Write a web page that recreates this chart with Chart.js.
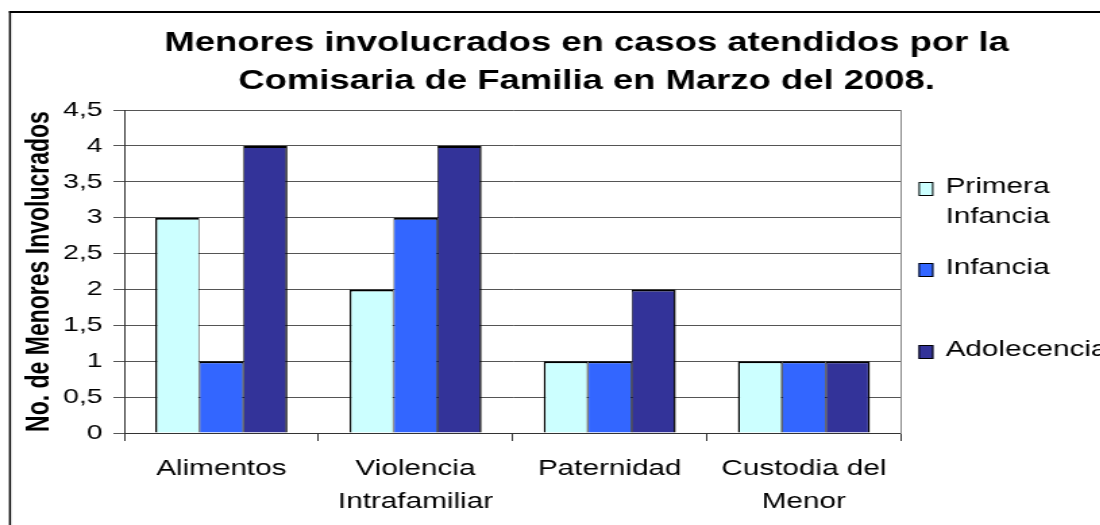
<!DOCTYPE html>
<html>
<head>
<meta charset="utf-8">
<script src="https://cdn.jsdelivr.net/npm/chart.js@4.4.1/dist/chart.umd.min.js"></script>
<style>
  html, body { margin: 0; padding: 0; background: #fff; overflow: hidden; width: 1100px; height: 525px; }
  /* the reference is drawn wide, so the whole canvas is stretched sideways */
  #wrap { position: absolute; left: 0; top: 0; transform: scaleX(1.35); transform-origin: 0 0; }
</style>
</head>
<body>
<div id="wrap"><canvas id="chart" width="869" height="525"></canvas></div>
<script>
const categories = [['Alimentos'], ['Violencia', 'Intrafamiliar'], ['Paternidad'], ['Custodia del', 'Menor']];
const seriesNames = ['Primera Infancia', 'Infancia', 'Adolecencia'];
const legendLines = [['Primera', 'Infancia'], ['Infancia'], ['Adolecencia']];
const primeraInfancia = [3, 2, 1, 1];
const infancia = [1, 3, 1, 1];
const adolecencia = [4, 4, 2, 1];
const seriesColors = ['#CCFFFF', '#3366FF', '#333399'];
const titleLines = ['Menores involucrados en casos atendidos por la', 'Comisaria de Familia en Marzo del 2008.'];
const yTitle = 'No. de Menores Involucrados';

Chart.defaults.font.family = "'Liberation Sans', Arial, sans-serif";
Chart.defaults.color = '#000';

// outer frame and the legend on the right
const framePlugin = {
  id: 'frame',
  afterDraw(chart) {
    const ctx = chart.ctx;
    const a = chart.chartArea;
    ctx.save();
    ctx.strokeStyle = '#000';
    ctx.lineWidth = 2;
    ctx.beginPath();
    ctx.moveTo(6.7, 12);
    ctx.lineTo(chart.width + 10, 12);
    ctx.stroke();
    ctx.lineWidth = 1.5;
    ctx.beginPath();
    ctx.moveTo(7.4, 11);
    ctx.lineTo(7.4, chart.height + 10);
    ctx.stroke();

    const lineY = [[187, 217], [268], [350]];
    ctx.font = "22px 'Liberation Sans', Arial, sans-serif";
    ctx.textBaseline = 'middle';
    ctx.textAlign = 'left';
    chart.data.datasets.forEach((ds, i) => {
      const ys = lineY[i];
      const boxX = a.right + 13;
      const boxY = ys[0] + 2 - 7;
      ctx.fillStyle = ds.backgroundColor;
      ctx.fillRect(boxX, boxY, 11, 14);
      ctx.strokeStyle = '#000';
      ctx.lineWidth = 1;
      ctx.strokeRect(boxX + 0.5, boxY + 0.5, 10, 13);
      ctx.fillStyle = '#000';
      legendLines[i].forEach((t, j) => ctx.fillText(t, a.right + 33, ys[j]));
    });
    ctx.restore();
  }
};

const borders = [
  { top: 2, left: 1.5, right: 0.75, bottom: 0 },
  { top: 2, left: 0.75, right: 0.75, bottom: 0 },
  { top: 2, left: 0.75, right: 1.5, bottom: 0 }
];
const seriesData = [primeraInfancia, infancia, adolecencia];

new Chart(document.getElementById('chart'), {
  type: 'bar',
  data: {
    labels: categories,
    datasets: seriesNames.map((name, i) => ({
      label: name,
      data: seriesData[i],
      backgroundColor: seriesColors[i],
      borderColor: '#000',
      borderWidth: borders[i],
      borderSkipped: 'start',
      categoryPercentage: 0.68,
      barPercentage: 1.0
    }))
  },
  options: {
    responsive: false,
    animation: false,
    devicePixelRatio: 1,
    layout: { padding: 0 },
    plugins: {
      legend: { display: false },
      tooltip: { enabled: false },
      title: {
        display: true,
        text: titleLines,
        color: '#000',
        font: { size: 27, weight: 'bold', lineHeight: 1.4 },
        padding: { top: 25, bottom: 9.4 }
      }
    },
    scales: {
      x: {
        grid: { drawOnChartArea: false, drawTicks: true, tickLength: 8, color: '#333', offset: true },
        border: { color: '#333', width: 1 },
        ticks: { font: { size: 22, lineHeight: 1.5 }, color: '#000', padding: 11, maxRotation: 0, autoSkip: false },
        afterFit: (s) => { s.height = 92; }
      },
      y: {
        min: 0,
        max: 4.5,
        ticks: {
          stepSize: 0.5,
          font: { size: 21 },
          color: '#000',
          padding: 8,
          callback: (v) => String(v).replace('.', ',')
        },
        grid: { color: '#555', tickLength: 8 },
        border: { color: '#333', width: 1 },
        title: {
          display: true,
          text: yTitle,
          color: '#000',
          font: { size: 23, weight: 'bold' },
          padding: { top: 16, bottom: 0 }
        },
        afterFit: (s) => { s.width = 92; }
      },
      // right edge of the plot area; its width reserves the legend column
      side: {
        position: 'right',
        min: 0,
        max: 4.5,
        grid: { drawOnChartArea: false, drawTicks: false },
        border: { color: '#888', width: 1 },
        ticks: { display: false },
        afterFit: (s) => { s.width = 201.6; }
      }
    }
  },
  plugins: [framePlugin]
});
</script>
</body>
</html>
